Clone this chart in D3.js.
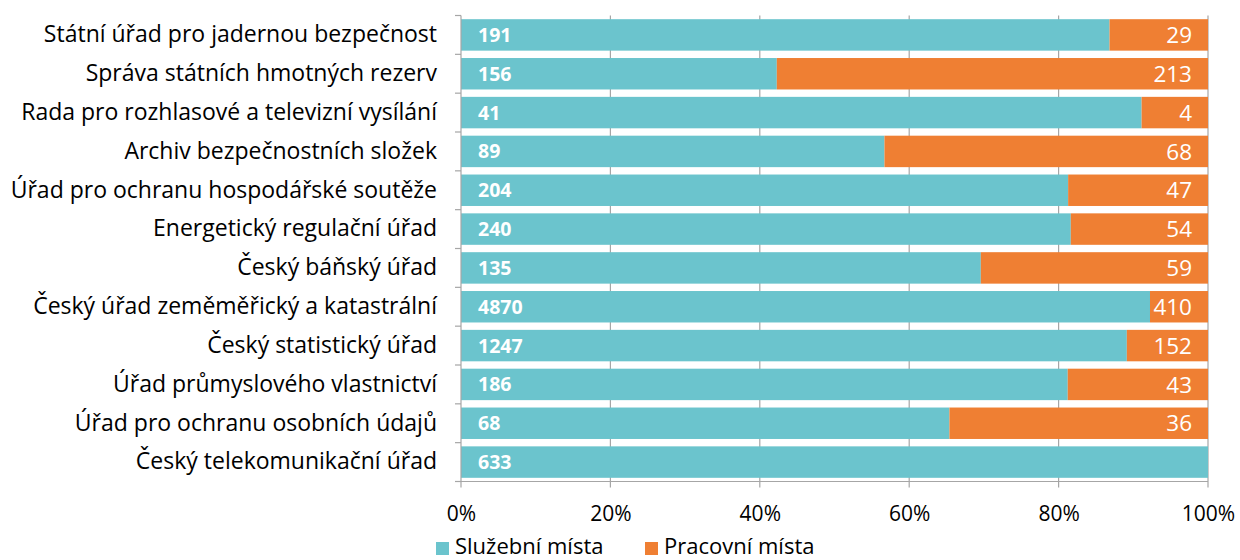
<!DOCTYPE html>
<html>
<head>
<meta charset="utf-8">
<script src="https://cdn.jsdelivr.net/npm/d3@7"></script>
<style>
  body { margin: 0; background: #fff; }
  text { font-family: "Open Sans", sans-serif; }
</style>
</head>
<body>
<div id="wrapper"></div>
<script>
const categories = [
  "Státní úřad pro jadernou bezpečnost",
  "Správa státních hmotných rezerv",
  "Rada pro rozhlasové a televizní vysílání",
  "Archiv bezpečnostních složek",
  "Úřad pro ochranu hospodářské soutěže",
  "Energetický regulační úřad",
  "Český báňský úřad",
  "Český úřad zeměměřický a katastrální",
  "Český statistický úřad",
  "Úřad průmyslového vlastnictví",
  "Úřad pro ochranu osobních údajů",
  "Český telekomunikační úřad"
]
const sluzebni = [191, 156, 41, 89, 204, 240, 135, 4870, 1247, 186, 68, 633]
const pracovni = [29, 213, 4, 68, 47, 54, 59, 410, 152, 43, 36, 0]
const seriesNames = ["Služební místa", "Pracovní místa"]
const colors = ["#6bc4cd", "#ef7f33"]
const xTicks = [0, 0.2, 0.4, 0.6, 0.8, 1]

const dataset = categories.map((c, i) => ({
  cat: c,
  a: sluzebni[i],
  b: pracovni[i],
  total: sluzebni[i] + pracovni[i]
}))

const dimensions = {
  width: 1240,
  height: 560,
  margin: { top: 15.5, right: 32, bottom: 78.5, left: 461 }
}
dimensions.boundedWidth = dimensions.width - dimensions.margin.left - dimensions.margin.right
dimensions.boundedHeight = dimensions.height - dimensions.margin.top - dimensions.margin.bottom

const svg = d3.select("#wrapper").append("svg")
  .attr("width", dimensions.width)
  .attr("height", dimensions.height)

const bounds = svg.append("g")
  .attr("transform", `translate(${dimensions.margin.left},${dimensions.margin.top})`)

const xScale = d3.scaleLinear()
  .domain([0, 1])
  .range([0, dimensions.boundedWidth])

const yScale = d3.scaleBand()
  .domain(categories)
  .range([0, dimensions.boundedHeight])
  .paddingInner(0.19)
  .paddingOuter(0.095)

const rowH = dimensions.boundedHeight / categories.length

// gridlines
bounds.append("g")
  .selectAll("line")
  .data(xTicks.slice(1))
  .enter().append("line")
    .attr("x1", d => xScale(d))
    .attr("x2", d => xScale(d))
    .attr("y1", 0)
    .attr("y2", dimensions.boundedHeight + 6)
    .attr("stroke", "#a6a6a6")
    .attr("stroke-width", 1.2)

// bars
const rows = bounds.selectAll(".row")
  .data(dataset)
  .enter().append("g")
    .attr("class", "row")
    .attr("transform", d => `translate(0,${yScale(d.cat)})`)

rows.append("rect")
  .attr("x", 0)
  .attr("width", d => xScale(d.a / d.total))
  .attr("height", yScale.bandwidth())
  .attr("fill", colors[0])

rows.append("rect")
  .attr("x", d => xScale(d.a / d.total))
  .attr("width", d => xScale(1) - xScale(d.a / d.total))
  .attr("height", yScale.bandwidth())
  .attr("fill", colors[1])

rows.append("text")
  .attr("x", 17)
  .attr("y", yScale.bandwidth() / 2)
  .attr("dy", "0.36em")
  .attr("fill", "#fff")
  .attr("font-weight", "bold")
  .attr("font-size", 19.5)
  .text(d => d.a)

rows.filter(d => d.b > 0).append("text")
  .attr("x", xScale(1) - 16)
  .attr("y", yScale.bandwidth() / 2)
  .attr("dy", "0.36em")
  .attr("text-anchor", "end")
  .attr("fill", "#fff")
  .attr("font-size", 22.5)
  .text(d => d.b)

// y axis
const yAxis = bounds.append("g")
  .call(d3.axisLeft(yScale).tickSize(0).tickPadding(24))
yAxis.select(".domain").remove()
yAxis.selectAll("text")
  .attr("font-size", 23)
  .attr("fill", "#000")
  .style("font-family", "'Open Sans', sans-serif")

const axisG = bounds.append("g")
axisG.append("line")
  .attr("x1", 0).attr("x2", 0)
  .attr("y1", 0).attr("y2", dimensions.boundedHeight + 6)
  .attr("stroke", "#a6a6a6").attr("stroke-width", 1.2)
axisG.selectAll(".ytick")
  .data(d3.range(categories.length + 1))
  .enter().append("line")
    .attr("x1", -6).attr("x2", 0)
    .attr("y1", i => i * rowH)
    .attr("y2", i => i * rowH)
    .attr("stroke", "#a6a6a6").attr("stroke-width", 1.2)
axisG.append("line")
  .attr("x1", 0).attr("x2", dimensions.boundedWidth)
  .attr("y1", dimensions.boundedHeight).attr("y2", dimensions.boundedHeight)
  .attr("stroke", "#a6a6a6").attr("stroke-width", 1.2)

// x axis
const xAxis = bounds.append("g")
  .attr("transform", `translate(0,${dimensions.boundedHeight})`)
  .call(d3.axisBottom(xScale).tickValues(xTicks).tickFormat(d3.format(".0%")).tickSize(0).tickPadding(25))
xAxis.select(".domain").remove()
xAxis.selectAll("text")
  .attr("font-size", 21)
  .attr("fill", "#000")
  .style("font-family", "'Open Sans', sans-serif")

// legend
const legend = svg.append("g")
const legendX = [436, 645]
seriesNames.forEach((name, i) => {
  legend.append("rect")
    .attr("x", legendX[i]).attr("y", 542)
    .attr("width", 13).attr("height", 13)
    .attr("fill", colors[i])
  legend.append("text")
    .attr("x", legendX[i] + 19).attr("y", 546)
    .attr("dy", "0.36em")
    .attr("font-size", 22)
    .text(name)
})
</script>
</body>
</html>
